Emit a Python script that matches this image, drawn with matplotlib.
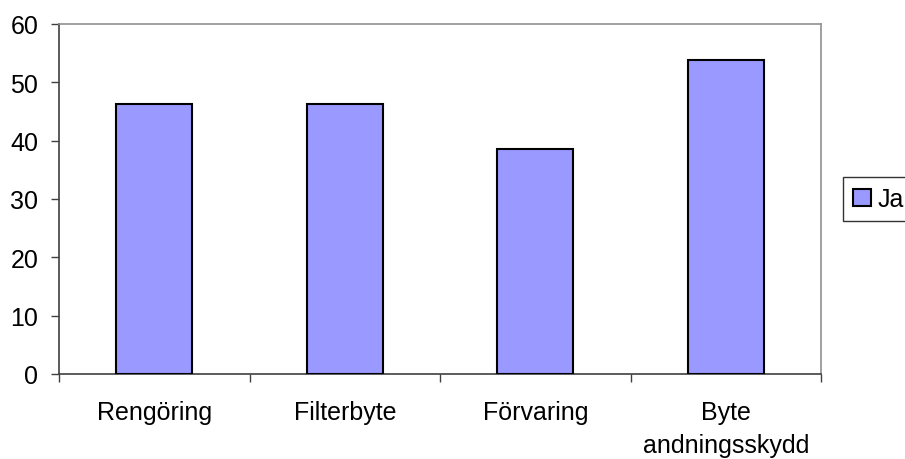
import matplotlib.pyplot as plt
import numpy as np

# --- data ---
categories = ['Rengöring', 'Filterbyte', 'Förvaring', 'Byte\nandningsskydd']
ja_values = [46.2, 46.2, 38.5, 53.8]
series_name = 'Ja'

plt.rcParams['font.family'] = ['Liberation Sans', 'DejaVu Sans']
FS = 18

fig = plt.figure(figsize=(9.05, 4.6), dpi=100)
ax = fig.add_axes([0.0652, 0.1848, 0.842, 0.7609])

x = np.arange(len(categories))
bars = ax.bar(x, ja_values, width=0.4, color='#9999FF', edgecolor='black',
              linewidth=1.5, label=series_name, zorder=3)

ax.set_xlim(-0.5, len(categories) - 0.5)
ax.set_ylim(0, 60)
ax.set_yticks(range(0, 61, 10))

# category labels centred, tick marks at category boundaries
ax.set_xticks(x)
ax.set_xticklabels(categories, linespacing=1.45)
ax.set_xticks(np.arange(-0.5, len(categories)), minor=True)
ax.tick_params(axis='x', which='major', length=0, pad=19, labelsize=FS)
ax.tick_params(axis='x', which='minor', length=6, width=1, color='#404040')
ax.tick_params(axis='y', length=6, width=1, color='#404040', pad=9, labelsize=FS)

for side in ['left', 'bottom']:
    ax.spines[side].set_color('#404040')
    ax.spines[side].set_linewidth(1.2)
for side in ['top', 'right']:
    ax.spines[side].set_color('#909090')
    ax.spines[side].set_linewidth(1.2)

leg = fig.legend(loc='upper left', bbox_to_anchor=(843 / 905, 1 - 178 / 460),
                 fontsize=FS, frameon=True, fancybox=False, shadow=False,
                 handlelength=0.7, handleheight=0.7, handletextpad=0.3,
                 borderpad=0.4, borderaxespad=0)
leg.get_frame().set_edgecolor('black')
leg.get_frame().set_linewidth(1.0)

fig.savefig('out.png', dpi=100)
